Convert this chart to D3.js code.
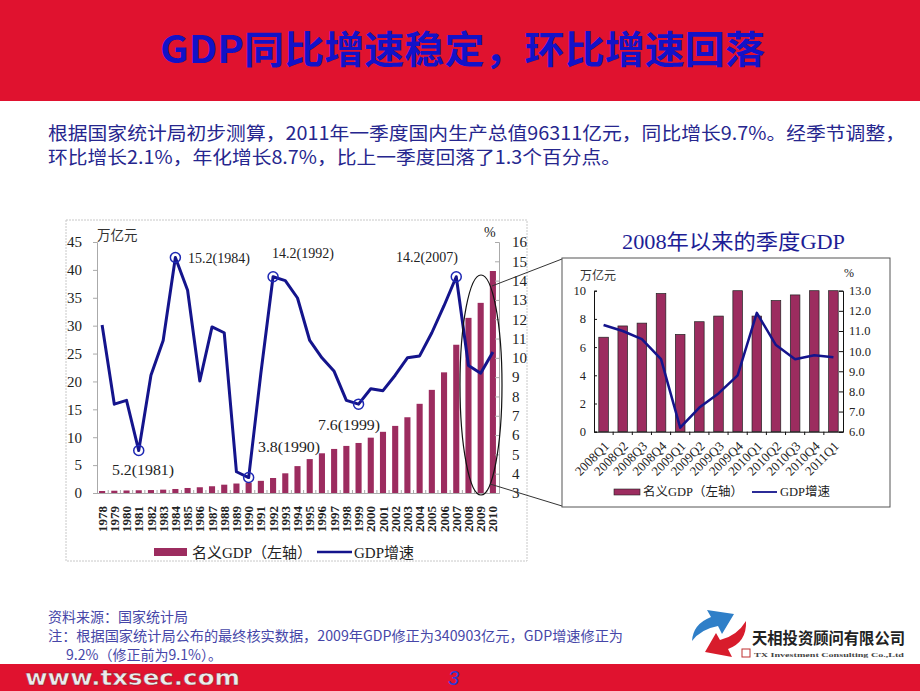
<!DOCTYPE html>
<html><head><meta charset="utf-8">
<script src="https://cdn.jsdelivr.net/npm/d3@7/dist/d3.min.js"></script>
<style>html,body{margin:0;padding:0;background:#fff;}svg{display:block;}</style>
</head><body>
<svg id="c" width="920" height="691"></svg>
<script>
// ---- data ----
const years = ["1978","1979","1980","1981","1982","1983","1984","1985","1986","1987","1988","1989","1990","1991","1992","1993","1994","1995","1996","1997","1998","1999","2000","2001","2002","2003","2004","2005","2006","2007","2008","2009","2010"];
const gdpAnnual = [0.36,0.41,0.45,0.49,0.53,0.60,0.72,0.90,1.03,1.21,1.49,1.70,1.87,2.18,2.69,3.53,4.82,6.08,7.12,7.90,8.44,8.97,9.92,10.97,12.03,13.58,15.99,18.49,21.63,26.58,31.40,34.09,39.80];
const growthAnnual = [11.7,7.6,7.8,5.2,9.1,10.9,15.2,13.5,8.8,11.6,11.3,4.1,3.8,9.2,14.2,14.0,13.1,10.9,10.0,9.3,7.8,7.6,8.4,8.3,9.1,10.0,10.1,11.3,12.7,14.2,9.6,9.2,10.3];
const leftTicks = [0,5,10,15,20,25,30,35,40,45];
const rightTicks = [3,4,5,6,7,8,9,10,11,12,13,14,15,16];
const annotations = [
  {year:"1984", label:"15.2(1984)"},
  {year:"1992", label:"14.2(1992)"},
  {year:"2007", label:"14.2(2007)"},
  {year:"1981", label:"5.2(1981)"},
  {year:"1990", label:"3.8(1990)"},
  {year:"1999", label:"7.6(1999)"}
];
const quarters = ["2008Q1","2008Q2","2008Q3","2008Q4","2009Q1","2009Q2","2009Q3","2009Q4","2010Q1","2010Q2","2010Q3","2010Q4","2011Q1"];
const gdpQuarter = [6.7,7.5,7.7,9.8,6.9,7.8,8.2,10.0,8.2,9.3,9.7,10.0,10.0];
const growthQuarter = [11.3,11.0,10.6,9.6,6.2,7.2,7.9,8.8,11.9,10.3,9.6,9.8,9.7];
const qLeftTicks = [0,2,4,6,8,10];
const qRightTicks = [6,7,8,9,10,11,12,13];

const svg = d3.select("#c");
const RED = "#e0122f", BAR = "#9c2c5f", LINE = "#14148c";
const SERIF = "'Liberation Serif','Noto Sans CJK SC',serif";
const CJK = "'Noto Sans CJK SC','Liberation Serif',sans-serif";

// ---- header ----
svg.append("rect").attr("x",0).attr("y",0).attr("width",920).attr("height",101).attr("fill",RED);
svg.append("text").attr("x",160).attr("y",63).attr("textLength",605).attr("lengthAdjust","spacingAndGlyphs")
  .attr("font-family",CJK).attr("font-weight","bold").attr("font-size",38).attr("fill","#1212c8")
  .text("GDP同比增速稳定，环比增速回落");
const para = [
  {t:"根据国家统计局初步测算，2011年一季度国内生产总值96311亿元，同比增长9.7%。经季节调整，", y:140, w:857},
  {t:"环比增长2.1%，年化增长8.7%，比上一季度回落了1.3个百分点。", y:164, w:573}
];
para.forEach(p=>svg.append("text").attr("x",48).attr("y",p.y).attr("textLength",p.w).attr("lengthAdjust","spacingAndGlyphs")
  .attr("font-family",CJK).attr("font-size",18.5).attr("fill","#26268e").text(p.t));

// ---- left chart ----
const L = svg.append("g");
L.append("rect").attr("x",66).attr("y",220).attr("width",461).attr("height",341)
  .attr("fill","none").attr("stroke","#c8c8c8").attr("stroke-dasharray","2,1");
const xA = d3.scaleBand().domain(years).range([96,499]).paddingInner(0.5).paddingOuter(0.25);
const yL = d3.scaleLinear().domain([0,45]).range([493,242]);
const yR = d3.scaleLinear().domain([3,16]).range([493,242]);

L.append("g").selectAll("rect").data(years).join("rect")
  .attr("x",d=>xA(d)).attr("width",xA.bandwidth())
  .attr("y",(d,i)=>yL(gdpAnnual[i])).attr("height",(d,i)=>yL(0)-yL(gdpAnnual[i]))
  .attr("fill",BAR);

const axL = L.append("g").attr("transform","translate(97,0)")
  .call(d3.axisLeft(yL).tickValues(leftTicks).tickSize(4).tickPadding(11));
const axR = L.append("g").attr("transform","translate(499,0)")
  .call(d3.axisRight(yR).tickValues(rightTicks).tickSize(-4).tickPadding(13));
[axL,axR].forEach(a=>{
  a.select(".domain").attr("stroke","#aaa");
  a.selectAll(".tick line").attr("stroke","#aaa");
  a.selectAll("text").attr("font-family",SERIF).attr("font-size",15).attr("fill","#222");
});
const axB = L.append("g").attr("transform","translate(0,493)")
  .call(d3.axisBottom(xA).tickSize(0).tickPadding(0));
axB.select(".domain").attr("stroke","#aaa");
axB.selectAll(".tick text").attr("font-family",SERIF).attr("font-size",13).attr("font-weight","bold").attr("fill","#222")
  .attr("text-anchor","end").attr("dy","0.35em").attr("transform","translate(0,13) rotate(-90)").attr("x",0).attr("y",0);
L.append("g").selectAll("line").data(years.slice(1)).join("line")
  .attr("x1",d=>xA(d)-xA.step()*xA.paddingInner()/2).attr("x2",d=>xA(d)-xA.step()*xA.paddingInner()/2)
  .attr("y1",493).attr("y2",490).attr("stroke","#aaa");

const lineA = d3.line().x((d,i)=>xA(years[i])+xA.bandwidth()/2).y(d=>yR(d));
L.append("path").datum(growthAnnual).attr("d",lineA).attr("fill","none").attr("stroke",LINE).attr("stroke-width",3).attr("stroke-linejoin","round");

const annPos = {"1984":[188,263],"1992":[272,258],"2007":[396,262],"1981":[112,475],"1990":[258,452],"1999":[318,430]};
annotations.forEach(a=>{
  const i = years.indexOf(a.year);
  L.append("circle").attr("cx",xA(a.year)+xA.bandwidth()/2).attr("cy",yR(growthAnnual[i])).attr("r",5)
    .attr("fill","none").attr("stroke","#1e28b4").attr("stroke-width",1.5);
  L.append("text").attr("x",annPos[a.year][0]).attr("y",annPos[a.year][1]).attr("textLength",62).attr("lengthAdjust","spacingAndGlyphs")
    .attr("font-family",SERIF).attr("font-size",14.5).attr("fill","#222").text(a.label);
});
L.append("text").attr("x",97).attr("y",240).attr("font-family",CJK).attr("font-size",13.5).attr("fill","#333").text("万亿元");
L.append("text").attr("x",484).attr("y",237).attr("font-family",SERIF).attr("font-size",14).attr("fill","#222").text("%");

// legend
L.append("rect").attr("x",154).attr("y",548).attr("width",33).attr("height",8).attr("fill",BAR);
L.append("text").attr("x",192).attr("y",558).attr("font-family",SERIF).attr("font-size",15).attr("fill","#222").text("名义GDP（左轴）");
L.append("line").attr("x1",317).attr("x2",352).attr("y1",552).attr("y2",552).attr("stroke",LINE).attr("stroke-width",2.5);
L.append("text").attr("x",354).attr("y",558).attr("font-family",SERIF).attr("font-size",15).attr("fill","#222").text("GDP增速");

// ellipse + connectors
svg.append("ellipse").attr("cx",481).attr("cy",385).attr("rx",21).attr("ry",110).attr("fill","none").attr("stroke","#111").attr("stroke-width",1.2);
svg.append("line").attr("x1",492).attr("y1",286).attr("x2",562).attr("y2",259).attr("stroke","#333");
svg.append("line").attr("x1",490).attr("y1",484).attr("x2",562).attr("y2",506).attr("stroke","#333");

// ---- right chart ----
const R = svg.append("g");
R.append("text").attr("x",622).attr("y",249).attr("textLength",223).attr("lengthAdjust","spacingAndGlyphs")
  .attr("font-family",SERIF).attr("font-size",21).attr("fill","#1e1e96").text("2008年以来的季度GDP");
R.append("rect").attr("x",562).attr("y",258).attr("width",328).attr("height",249).attr("fill","#fff").attr("stroke","#555");
const xQ = d3.scaleBand().domain(quarters).range([594,843]).paddingInner(0.5).paddingOuter(0.25);
const yQL = d3.scaleLinear().domain([0,10]).range([431.7,290.7]);
const yQR = d3.scaleLinear().domain([6,13]).range([431.7,290.7]);
R.append("g").selectAll("rect").data(quarters).join("rect")
  .attr("x",d=>xQ(d)).attr("width",xQ.bandwidth())
  .attr("y",(d,i)=>yQL(gdpQuarter[i])).attr("height",(d,i)=>yQL(0)-yQL(gdpQuarter[i]))
  .attr("fill",BAR).attr("stroke","#222").attr("stroke-width",0.7);
const qaL = R.append("g").attr("transform","translate(594,0)")
  .call(d3.axisLeft(yQL).tickValues(qLeftTicks).tickSize(-3).tickPadding(8));
const qaR = R.append("g").attr("transform","translate(843,0)")
  .call(d3.axisRight(yQR).tickValues(qRightTicks).tickSize(-4).tickPadding(6).tickFormat(d3.format(".1f")));
[qaL,qaR].forEach(a=>{
  a.select(".domain").attr("stroke","#111");
  a.selectAll(".tick line").attr("stroke","#111");
  a.selectAll("text").attr("font-family",SERIF).attr("font-size",12.5).attr("fill","#222");
});
const qaB = R.append("g").attr("transform","translate(0,431.7)")
  .call(d3.axisBottom(xQ).tickSize(0).tickPadding(0));
qaB.select(".domain").attr("stroke","#111");
qaB.selectAll(".tick text").attr("font-family",SERIF).attr("font-size",13).attr("fill","#222")
  .attr("text-anchor","end").attr("x",0).attr("y",0).attr("dy","0.35em").attr("transform","translate(3,12) rotate(-45)");
R.append("g").selectAll("line").data(quarters.slice(1)).join("line")
  .attr("x1",d=>xQ(d)-xQ.step()*xQ.paddingInner()/2).attr("x2",d=>xQ(d)-xQ.step()*xQ.paddingInner()/2)
  .attr("y1",431.7).attr("y2",435).attr("stroke","#111");
const lineQ = d3.line().x((d,i)=>xQ(quarters[i])+xQ.bandwidth()/2).y(d=>yQR(d));
R.append("path").datum(growthQuarter).attr("d",lineQ).attr("fill","none").attr("stroke",LINE).attr("stroke-width",2.5).attr("stroke-linejoin","round");
R.append("text").attr("x",580).attr("y",280).attr("font-family",CJK).attr("font-size",12).attr("fill","#333").text("万亿元");
R.append("text").attr("x",844).attr("y",277).attr("font-family",SERIF).attr("font-size",12).attr("fill","#222").text("%");
R.append("rect").attr("x",614).attr("y",489).attr("width",26).attr("height",6).attr("fill",BAR).attr("stroke","#222").attr("stroke-width",0.6);
R.append("text").attr("x",643).attr("y",496).attr("font-family",SERIF).attr("font-size",12.5).attr("fill","#222").text("名义GDP（左轴）");
R.append("line").attr("x1",752).attr("x2",777).attr("y1",492).attr("y2",492).attr("stroke",LINE).attr("stroke-width",1.8);
R.append("text").attr("x",780).attr("y",496).attr("font-family",SERIF).attr("font-size",12.5).attr("fill","#222").text("GDP增速");

// ---- footer ----
const notes = [
  {t:"资料来源：国家统计局", x:48, y:622, w:null},
  {t:"注：根据国家统计局公布的最终核实数据，2009年GDP修正为340903亿元，GDP增速修正为", x:48, y:641, w:575},
  {t:"9.2%（修正前为9.1%）。", x:66, y:660, w:156}
];
notes.forEach(n=>{
  const t = svg.append("text").attr("x",n.x).attr("y",n.y).attr("font-family",CJK).attr("font-size",14).attr("fill","#4646a8").text(n.t);
  if(n.w) t.attr("textLength",n.w).attr("lengthAdjust","spacingAndGlyphs");
});
// logo
svg.append("path").attr("d","M692,641 Q693,624 711,617 L707,610 L734,614 L722,634 L718,626 Q701,629 692,641 Z").attr("fill","#2f7fc8");
svg.append("path").attr("d","M746,621 Q747,642 728,649 L732,657 L705,652 L716,633 L720,640 Q737,636 746,621 Z").attr("fill","#d81c2c");
svg.append("rect").attr("x",742).attr("y",649).attr("width",8).attr("height",8).attr("fill","none").attr("stroke","#c03030").attr("stroke-width",1);
svg.append("text").attr("x",752).attr("y",644).attr("textLength",153).attr("lengthAdjust","spacingAndGlyphs")
  .attr("font-family",CJK).attr("font-weight","bold").attr("font-size",16).attr("fill","#222").text("天相投资顾问有限公司");
svg.append("text").attr("x",754).attr("y",657).attr("textLength",150).attr("lengthAdjust","spacingAndGlyphs")
  .attr("font-family",SERIF).attr("font-weight","bold").attr("font-size",6.5).attr("fill","#444").text("TX Investment Consulting Co.,Ltd");
// bottom band
svg.append("rect").attr("x",0).attr("y",664).attr("width",920).attr("height",27).attr("fill",RED);
svg.append("text").attr("x",25).attr("y",685).attr("textLength",215).attr("lengthAdjust","spacingAndGlyphs")
  .attr("font-family","'DejaVu Sans',sans-serif").attr("font-weight","bold").attr("font-size",21).attr("fill","#ececec")
  .attr("stroke","#7a1020").attr("stroke-width",0.4).text("www.txsec.com");
svg.append("text").attr("x",448).attr("y",685).attr("font-family","'Liberation Sans',sans-serif").attr("font-style","italic").attr("font-size",20).attr("fill","#2a3ad8").text("3");
</script>
</body></html>
